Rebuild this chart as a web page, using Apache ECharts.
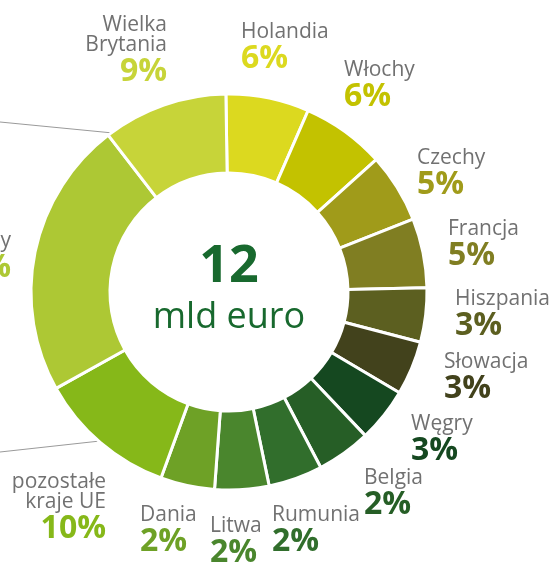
<!DOCTYPE html>
<html>
<head>
<meta charset="utf-8">
<script src="https://cdn.jsdelivr.net/npm/echarts@6/dist/echarts.min.js"></script>
<style>
  html, body { margin: 0; padding: 0; background: #fff; }
  #chart { width: 553px; height: 564px; }
</style>
</head>
<body>
<div id="chart"></div>
<script>
// countries clockwise from the top
var countries = ['Holandia', 'Włochy', 'Czechy', 'Francja', 'Hiszpania', 'Słowacja', 'Węgry',
  'Belgia', 'Rumunia', 'Litwa', 'Dania', 'pozostałe\nkraje UE', 'Niemcy', 'Wielka\nBrytania'];
// share in %, Niemcy is cut off in the picture -> estimated from its slice
var shares = [6, 6, 5, 5, 3, 3, 3, 2, 2, 2, 2, 10, 20, 9];
var totalText = '12';
var unitText = 'mld euro';

var colors = ['#DCD91F', '#C3C200', '#A09B1A', '#807E22', '#5C5F20', '#42421C', '#154820',
  '#265E26', '#316E2C', '#4A862D', '#6EA126', '#86B819', '#ADC834', '#C7D439'];

// label block placement: [x, top, align]
var labelPlaces = [
  [241, 22, 'left'], [344, 60, 'left'], [417, 148, 'left'], [448, 219, 'left'],
  [455, 289, 'left'], [444, 352, 'left'], [411, 414, 'left'], [364, 468, 'left'],
  [272, 505, 'left'], [210, 516, 'left'], [140, 505, 'left'], [106, 472, 'right'],
  [11, 231, 'right'], [167, 15, 'right']
];

var CX = 229, CY = 292;
var font = '"Open Sans", "Noto Sans", sans-serif';

var pieData = [];
for (var i = 0; i < countries.length; i++) {
  pieData.push({
    name: countries[i],
    value: shares[i],
    itemStyle: { color: colors[i] },
    label: { rich: { p: { color: colors[i] } } }
  });
}

var option = {
  backgroundColor: '#fff',
  animation: false,
  graphic: [
    { type: 'line', shape: { x1: 0, y1: 122, x2: 113, y2: 133 }, style: { stroke: '#9a9a9a', lineWidth: 1 } },
    { type: 'line', shape: { x1: 0, y1: 452, x2: 100, y2: 441 }, style: { stroke: '#9a9a9a', lineWidth: 1 } },
    { type: 'text', x: CX, y: CY - 25, style: { text: totalText, font: 'bold 52px ' + font, fill: '#18692E', align: 'center', verticalAlign: 'middle' } },
    { type: 'text', x: CX, y: CY + 26, style: { text: unitText, font: '36px ' + font, fill: '#18692E', align: 'center', verticalAlign: 'middle' } }
  ],
  series: [{
    type: 'pie',
    center: [CX, CY],
    radius: [119, 198],
    startAngle: 90.9,
    minAngle: 15.9,
    avoidLabelOverlap: false,
    itemStyle: { borderColor: '#fff', borderWidth: 3 },
    emphasis: { disabled: true },
    labelLine: { show: false },
    label: {
      show: true,
      position: 'outside',
      formatter: function (p) { return '{n|' + p.name + '}\n{p|' + p.value + '%}'; },
      rich: {
        n: { fontFamily: font, fontSize: 21, lineHeight: 20, color: '#717171' },
        p: { fontFamily: font, fontSize: 32, fontWeight: 'bold', lineHeight: 34 }
      }
    },
    labelLayout: function (params) {
      var pl = labelPlaces[params.dataIndex];
      return { x: pl[0], y: pl[1], align: pl[2], verticalAlign: 'top' };
    },
    data: pieData
  }]
};

var myChart = echarts.init(document.getElementById('chart'));
myChart.setOption(option);
</script>
</body>
</html>
